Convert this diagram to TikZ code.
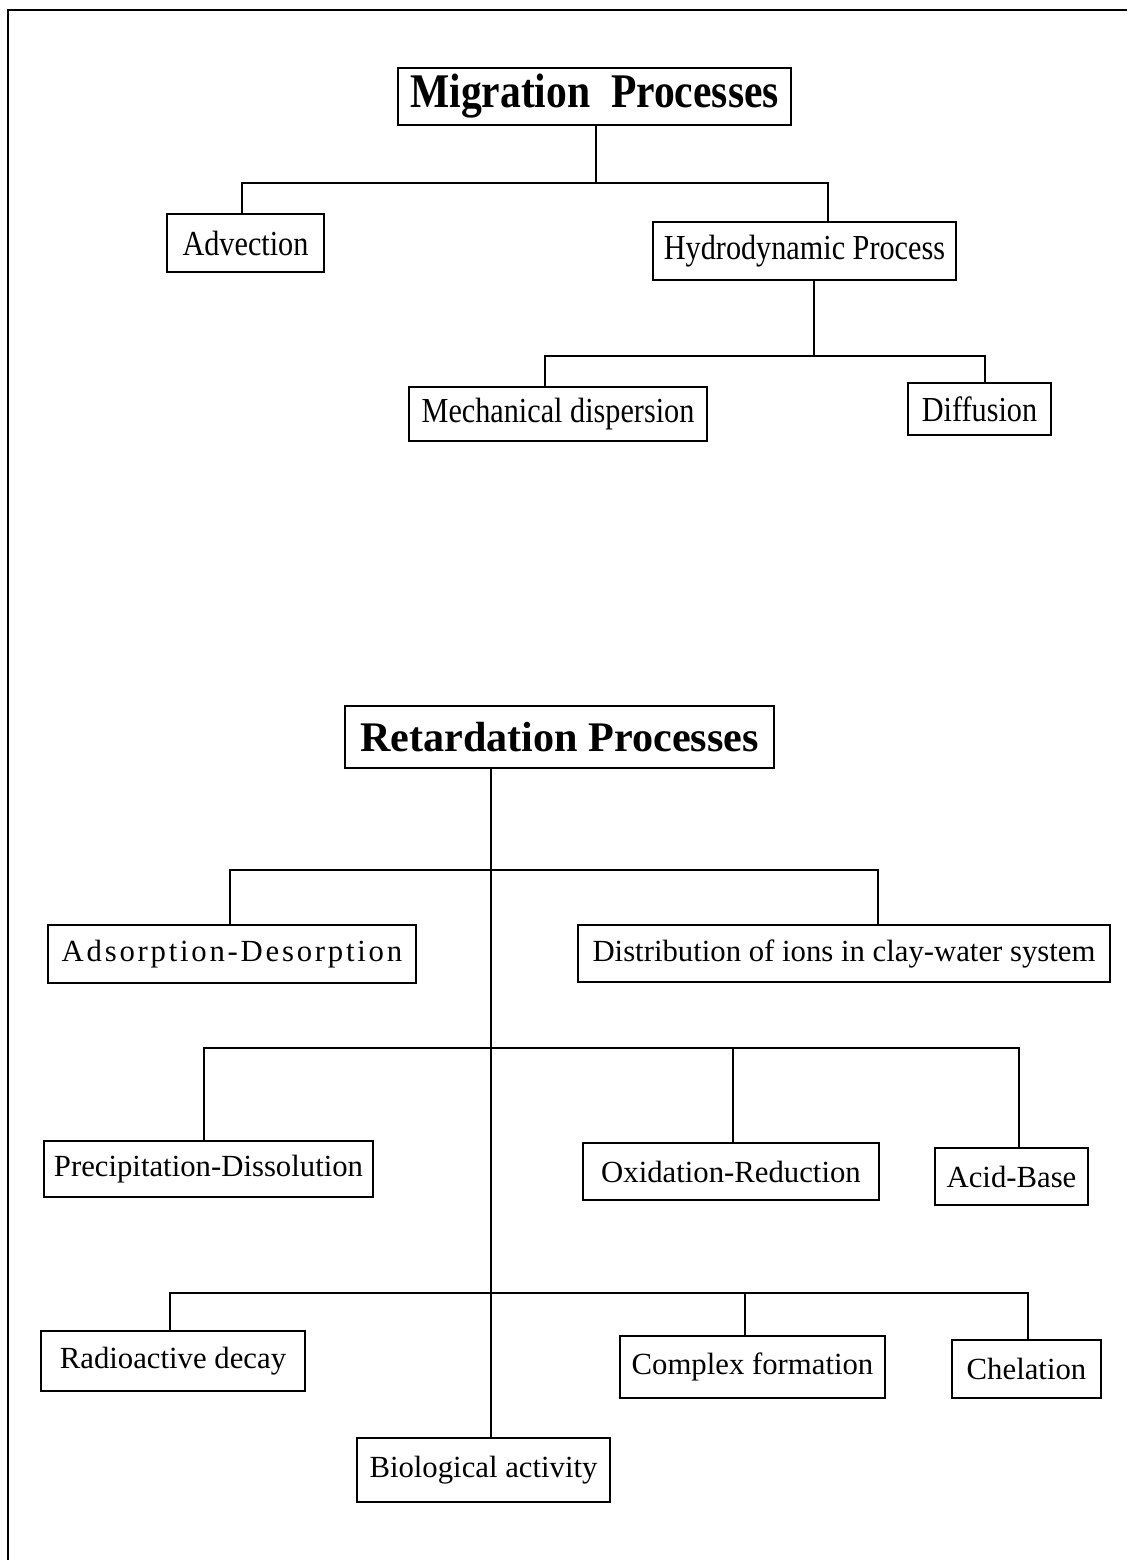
\documentclass[tikz,border=0pt]{standalone}
\usepackage{fontspec}
\setmainfont{Liberation Serif}
\newfontfamily\spacedfont[LetterSpace=9]{Liberation Serif}
\newfontfamily\narrowfont[FakeStretch=0.86]{Liberation Serif}
\usepackage{tikz}
\usetikzlibrary{positioning}

\begin{document}
\begin{tikzpicture}[x=0.02cm, y=-0.02cm, line width=1.3pt,
  procbox/.style={draw, line width=1.6pt, inner sep=0pt, align=center, font=\fontsize{17.5}{20}\selectfont},
  narrowbox/.style={procbox, font=\narrowfont\fontsize{20}{22}\selectfont},
  headbox/.style={procbox, font=\fontsize{24}{28}\selectfont\bfseries},
  boxsize/.style 2 args={minimum width=#1*0.02cm, minimum height=#2*0.02cm}]
\useasboundingbox (0,0) rectangle (1127,1560);
% frame
\draw (8,1560) -- (8,10) -- (1127,10);

% migration
\node[headbox, font=\narrowfont\fontsize{27.5}{30}\selectfont\bfseries, boxsize={393}{57}] (mig) at (594.5,96.5) {Migration\ \ Processes};
\node[narrowbox, boxsize={157}{58}] (adv) at (245.5,243) {Advection};
\node[narrowbox, boxsize={303}{58}] (hyd) at (804.5,251) {Hydrodynamic Process};
\node[narrowbox, boxsize={298}{54}] (mec) at (558,414) {Mechanical dispersion};
\node[narrowbox, boxsize={143}{52}] (dif) at (979.5,409) {Diffusion};
\coordinate (mbus) at (596,183);
\coordinate (hbus) at (814,356);
\draw (mig.south -| mbus) -- (mbus);
\draw (adv.north -| 242,0) |- (mbus) -| (hyd.north -| 828,0);
\draw (hyd.south -| hbus) -- (hbus);
\draw (mec.north -| 545,0) |- (hbus) -| (dif.north -| 985,0);

% retardation
\node[headbox, boxsize={429}{62}] (ret) at (559.5,737) {Retardation Processes};
\node[procbox, boxsize={368}{58}] (ads) at (232,954) {\spacedfont Adsorption-Desorption};
\node[procbox, boxsize={532}{57}] (dis) at (844,953.5) {Distribution of ions in clay-water system};
\node[procbox, boxsize={329}{56}] (pre) at (208.5,1169) {Precipitation-Dissolution};
\node[procbox, boxsize={296}{57}] (oxi) at (731,1171.5) {Oxidation-Reduction};
\node[procbox, boxsize={153}{57}] (aci) at (1011.5,1176.5) {Acid-Base};
\node[procbox, boxsize={264}{60}] (rad) at (173,1361) {Radioactive decay};
\node[procbox, boxsize={265}{62}] (com) at (752.5,1367) {Complex formation};
\node[procbox, boxsize={149}{58}] (che) at (1026.5,1369) {Chelation};
\node[procbox, boxsize={253}{64}] (bio) at (483.5,1470) {Biological activity};
\coordinate (rbus1) at (491,870);
\coordinate (rbus2) at (491,1048);
\coordinate (rbus3) at (491,1293);
\draw (ret.south -| rbus1) -- (bio.north -| rbus1);
\draw (ads.north -| 230,0) |- (rbus1) -| (dis.north -| 878,0);
\draw (pre.north -| 204,0) |- (rbus2) -| (aci.north -| 1019,0);
\draw (oxi.north -| 733,0) -- (733,1048);
\draw (rad.north -| 170,0) |- (rbus3) -| (che.north -| 1028,0);
\draw (com.north -| 745,0) -- (745,1293);
\end{tikzpicture}
\end{document}
